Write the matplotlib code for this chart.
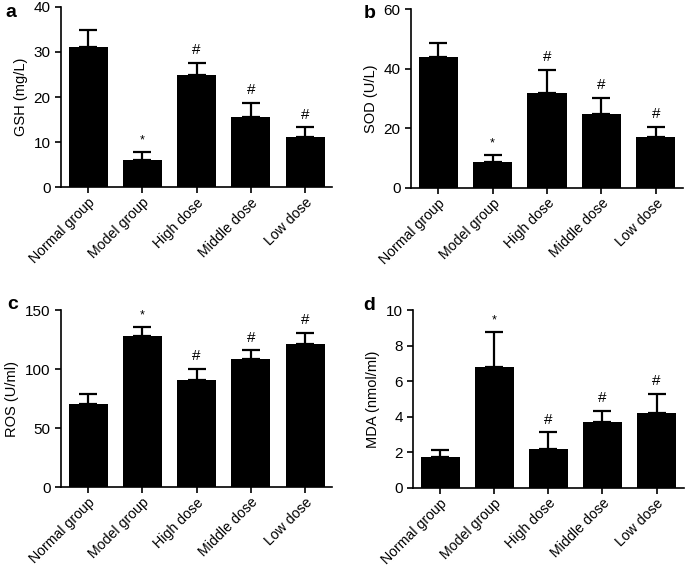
import matplotlib
matplotlib.use("Agg")
import matplotlib.pyplot as plt
import numpy as np

groups = ["Normal group", "Model group", "High dose", "Middle dose", "Low dose"]

gsh_mean = [31.0, 6.0, 24.9, 15.6, 11.1]
gsh_sd = [3.9, 1.7, 2.7, 3.1, 2.2]
sod_mean = [43.8, 8.5, 31.7, 24.8, 17.1]
sod_sd = [4.7, 2.4, 7.9, 5.5, 3.3]
ros_mean = [70.0, 128.4, 91.0, 108.5, 121.6]
ros_sd = [8.5, 7.0, 9.3, 7.5, 9.0]
mda_mean = [1.71, 6.78, 2.20, 3.70, 4.19]
mda_sd = [0.43, 1.97, 0.91, 0.64, 1.10]

marks = ["", "*", "#", "#", "#"]

plt.rcParams["font.family"] = ["Liberation Sans", "DejaVu Sans"]

fig = plt.figure(figsize=(6.85, 5.69), dpi=100)

# letter, axes rect, data, y label, y max, y step, letter position (px from top-left)
panels = [
    ("a", [0.089, 0.671, 0.396, 0.317], gsh_mean, gsh_sd, "GSH (mg/L)", 40, 10, (5, 17)),
    ("b", [0.600, 0.670, 0.397, 0.314], sod_mean, sod_sd, "SOD (U/L)", 60, 20, (364, 18)),
    ("c", [0.089, 0.144, 0.396, 0.311], ros_mean, ros_sd, "ROS (U/ml)", 150, 50, (7, 309)),
    ("d", [0.603, 0.143, 0.395, 0.312], mda_mean, mda_sd, "MDA (nmol/ml)", 10, 2, (363, 310)),
]

x = np.arange(len(groups))
for letter, rect, mean, sd, ylab, ymax, ystep, (lx, ly) in panels:
    ax = fig.add_axes(rect)
    ax.bar(x, mean, width=0.72, color="black", zorder=2)
    ax.errorbar(x, mean, yerr=[np.zeros(len(sd)), sd], fmt="none", ecolor="black",
                elinewidth=1.6, capsize=6.5, capthick=1.6, zorder=1)
    ax.set_xlim(-0.5, 4.5)
    ax.set_ylim(0, ymax)
    ax.set_yticks(np.arange(0, ymax + ystep / 2, ystep))
    ax.set_xticks(x)
    ax.set_xticklabels(groups, rotation=45, ha="right", rotation_mode="anchor", fontsize=10.2)
    ax.tick_params(axis="y", labelsize=11, length=4, width=1.2)
    ax.tick_params(axis="x", length=4, width=1.2, pad=2)
    ax.set_ylabel(ylab, fontsize=10.5)
    for s in ["top", "right"]:
        ax.spines[s].set_visible(False)
    for s in ["left", "bottom"]:
        ax.spines[s].set_linewidth(1.2)
    for xi, m, e, mk in zip(x, mean, sd, marks):
        if not mk:
            continue
        fs = 11 if mk == "#" else 9
        ax.annotate(mk, (xi, m + e), textcoords="offset points", xytext=(0, 4),
                    ha="center", va="bottom", fontsize=fs)
    fig.text(lx / 685, 1 - ly / 569, letter, fontsize=14, fontweight="bold",
             ha="left", va="baseline")

fig.savefig("out.png", dpi=100)
